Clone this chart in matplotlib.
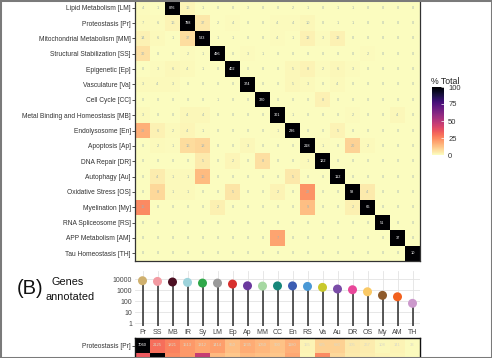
import numpy as np
import matplotlib
matplotlib.use("Agg")
import matplotlib.pyplot as plt
from matplotlib.colors import Normalize
from matplotlib.patches import Rectangle

plt.rcParams['font.family'] = ['Liberation Sans', 'DejaVu Sans']

# --- (A) overlap matrix: rows = categories, 19 columns ---
row_labels = ["Lipid Metabolism [LM]", "Proteostasis [Pr]", "Mitochondrial Metabolism [MM]",
              "Structural Stabilization [SS]", "Epigenetic [Ep]", "Vasculature [Va]",
              "Cell Cycle [CC]", "Metal Binding and Homeostasis [MB]", "Endolysosome [En]",
              "Apoptosis [Ap]", "DNA Repair [DR]", "Autophagy [Au]", "Oxidative Stress [OS]",
              "Myelination [My]", "RNA Spliceosome [RS]", "APP Metabolism [AM]",
              "Tau Homeostasis [TH]"]
LM = [4, 1, 876, 16, 1, 0, 0, 3, 0, 0, 2, 1, 0, 1, 1, 0, 0, 0, 0]
Pr = [7, 6, 16, 798, 37, 2, 4, 0, 0, 4, 4, 10, 0, 1, 1, 0, 0, 0, 0]
MM = [14, 6, 1, 37, 533, 1, 1, 0, 0, 4, 1, 13, 3, 13, 0, 0, 0, 0, 0]
SS = [30, 0, 0, 2, 1, 496, 0, 3, 1, 0, 0, 0, 0, 0, 0, 2, 0, 0, 0]
Ep = [0, 3, 6, 4, 1, 0, 402, 0, 0, 0, 5, 8, 2, 6, 3, 0, 0, 0, 0]
Va = [3, 4, 3, 0, 0, 0, 0, 374, 0, 0, 5, 3, 0, 4, 0, 0, 0, 0, 0]
CC = [0, 0, 0, 0, 0, 1, 0, 0, 320, 0, 0, 0, 8, 0, 0, 0, 0, 0, 0]
MB = [3, 0, 0, 4, 4, 0, 0, 0, 0, 301, 1, 0, 0, 0, 2, 0, 0, 4, 0]
En = [39, 6, 2, 4, 1, 0, 0, 0, 0, 1, 236, 0, 0, 5, 0, 0, 0, 0, 0]
Ap = [0, 2, 1, 16, 18, 0, 0, 3, 0, 0, 0, 218, 1, 0, 20, 2, 0, 0, 0]
DR = [0, 0, 0, 0, 5, 0, 2, 0, 8, 0, 0, 1, 122, 0, 0, 0, 0, 0, 0]
Au = [0, 4, 1, 1, 16, 0, 0, 0, 0, 0, 5, 0, 0, 112, 0, 0, 0, 0, 0]
OS = [0, 8, 1, 1, 0, 0, 5, 0, 0, 2, 0, 22, 0, 0, 98, 4, 0, 0, 0]
My = [16, 0, 0, 0, 0, 2, 0, 0, 0, 0, 0, 9, 0, 0, 2, 66, 0, 0, 0]
RS = [0, 0, 0, 0, 0, 0, 0, 0, 0, 0, 0, 0, 0, 0, 0, 0, 51, 0, 0]
AM = [0, 0, 0, 0, 0, 0, 0, 0, 0, 7, 0, 0, 0, 0, 0, 0, 0, 37, 0]
TH = [0, 0, 0, 0, 0, 0, 0, 0, 0, 0, 0, 0, 0, 0, 0, 0, 0, 0, 10]

# --- (B) genes annotated ---
cats = ["Pr", "SS", "MB", "IR", "Sy", "LM", "Ep", "Ap", "MM", "CC", "En", "RS",
        "Va", "Au", "DR", "OS", "My", "AM", "TH"]
genes = [7060, 6100, 5400, 5000, 4300, 4300, 3500, 2450, 2300, 2400, 2400, 2150,
         1750, 1240, 1070, 700, 330, 245, 62]
cat_colors = ["#CFB06E", "#F39AA2", "#4B0F22", "#9DD3DB", "#2FA84A", "#9A9A9A",
              "#D7302E", "#6B3A9E", "#A6D8A2", "#17877A", "#3C5DB3", "#4A98D6",
              "#C8C82C", "#7A4CA8", "#E8479A", "#FAC965", "#8E5A2B", "#F2611E",
              "#CC99CC"]

# bottom overlap rows (second one only partly visible)
low_labels = ["Proteostasis [Pr]", "Structural Stabilization [SS]"]
low_Pr = [7060, 2125, 1821, 1513, 1312, 1414, 950, 1235, 1050, 900, 1180, 155,
          685, 680, 305, 267, 108, 141, 33]
low_SS = [2125, 6100, 1500, 1300, 2800, 900, 700, 900, 800, 700, 1100, 100,
          1500, 500, 250, 200, 120, 100, 25]

W, H = 492, 358
fig = plt.figure(figsize=(W / 100, H / 100), dpi=100)


def box(x0, y0, x1, y1):
    return [x0 / W, 1 - y1 / H, (x1 - x0) / W, (y1 - y0) / H]


cmap = plt.get_cmap("magma_r")
norm = Normalize(0, 100)
txt_col = "#9FB2B6"

# ---------- upper heatmap ----------
mat = np.array([LM, Pr, MM, SS, Ep, Va, CC, MB, En, Ap, DR, Au, OS, My, RS, AM, TH], float)
nr, nc = mat.shape
diag = np.array([mat[i, i + 2] for i in range(nr)])
pct = mat / diag[:, None] * 100

ax = fig.add_axes(box(135, 0, 420, 261))
ax.imshow(pct, cmap=cmap, norm=norm, aspect="auto", interpolation="nearest")
for i in range(nr):
    for j in range(nc):
        c = "white" if pct[i, j] > 60 else txt_col
        ax.text(j, i, "%d" % mat[i, j], ha="center", va="center", fontsize=2.8, color=c)
ax.set_yticks(range(nr))
ax.set_yticklabels(row_labels, fontsize=4.8, color="#333333")
ax.set_xticks([])
ax.tick_params(axis="y", length=2, width=0.6, pad=1, color="#333333")
for s in ax.spines.values():
    s.set_color("#333333")
    s.set_linewidth(0.9)

# colorbar
cax = fig.add_axes(box(432, 87, 444, 155))
cb = matplotlib.colorbar.ColorbarBase(cax, cmap=cmap, norm=norm, ticks=[0, 25, 50, 75, 100])
cb.outline.set_visible(False)
cax.tick_params(length=2, width=0.5, color="white", direction="in", labelsize=5.5, pad=3,
                labelcolor="#333333")
fig.text(431 / W, 1 - 81 / H, "% Total", fontsize=6.3, ha="left", va="center", color="#222222")

# ---------- lollipop ----------
ax2 = fig.add_axes(box(135, 271, 420, 326))
x = np.arange(len(cats))
ymin = 0.54
ax2.set_yscale("log")
ax2.set_ylim(ymin, 54000)
ax2.set_xlim(-0.5, len(cats) - 0.5)
ax2.vlines(x, ymin, genes, color="#2b2b2b", lw=1.1, zorder=2)
ax2.scatter(x, genes, s=42, c=cat_colors, zorder=3, edgecolors="none")
ax2.set_yticks([1, 10, 100, 1000, 10000])
ax2.set_yticklabels(["1", "10", "100", "1000", "10000"])
ax2.set_xticks(x)
ax2.set_xticklabels(cats)
ax2.tick_params(length=0, labelsize=5, pad=2, labelcolor="#444444")
ax2.yaxis.set_minor_locator(matplotlib.ticker.LogLocator(base=10, subs=[3.0]))
ax2.yaxis.set_minor_formatter(matplotlib.ticker.NullFormatter())
ax2.tick_params(which="minor", length=0)
ax2.grid(True, which="major", color="#E3E3E3", lw=0.6)
ax2.grid(True, which="minor", axis="y", color="#EFEFEF", lw=0.5)
ax2.set_axisbelow(True)
for s in ax2.spines.values():
    s.set_visible(False)

fig.text(17 / W, 1 - 289 / H, "(B)", fontsize=14.5, ha="left", va="center", color="#111111")
fig.text(52 / W, 1 - 282 / H, "Genes", fontsize=7.8, ha="left", va="center", color="#111111")
fig.text(46 / W, 1 - 297 / H, "annotated", fontsize=7.8, ha="left", va="center", color="#111111")

# ---------- lower heatmap (cut off by the figure edge) ----------
low = np.array([low_Pr, low_SS], float)
lpct = low / np.array([low_Pr[0], low_SS[1]])[:, None] * 100
ax3 = fig.add_axes(box(135, 338, 420, 368))
ax3.imshow(lpct, cmap=cmap, norm=norm, aspect="auto", interpolation="nearest")
for j in range(low.shape[1]):
    c = "white" if lpct[0, j] > 60 else "#D8D8C8"
    ax3.text(j, 0, "%d" % low[0, j], ha="center", va="center", fontsize=3, color=c)
ax3.set_yticks([0])
ax3.set_yticklabels(low_labels[:1], fontsize=4.8, color="#333333")
ax3.set_xticks([])
ax3.tick_params(axis="y", length=2, width=0.6, pad=1, color="#333333")
for s in ax3.spines.values():
    s.set_color("#111111")
    s.set_linewidth(1.0)

# figure frame
fig.patches.append(Rectangle((0, 0), 1, 1, transform=fig.transFigure, fill=False,
                             edgecolor="#7A7A7A", lw=2.2))

fig.savefig("out.png", dpi=100)
